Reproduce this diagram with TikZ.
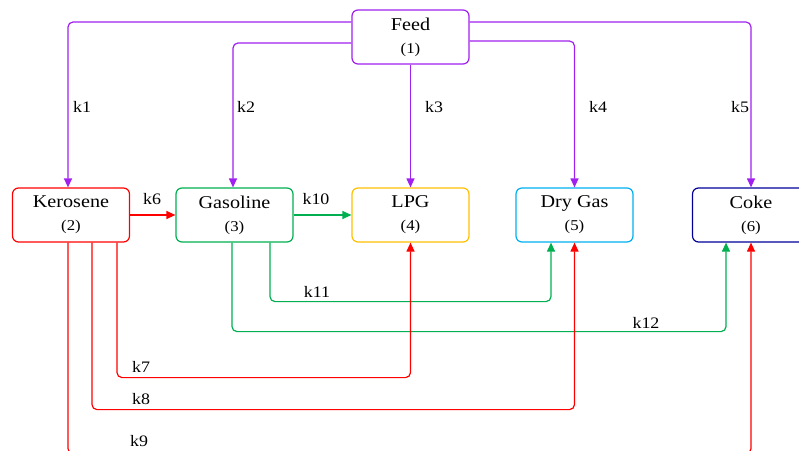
\documentclass[tikz,border=0pt]{standalone}
\usepackage{fontspec}
\setmainfont{Liberation Serif}[FakeStretch=1.12]
\usetikzlibrary{arrows.meta}
\definecolor{cpurple}{HTML}{A020F0}
\definecolor{cred}{HTML}{FF0000}
\definecolor{cgreen}{HTML}{00B050}
\definecolor{corange}{HTML}{FFC000}
\definecolor{ccyan}{HTML}{00B0F0}
\definecolor{cnavy}{HTML}{000099}
\tikzset{
  box/.style={draw, line width=1.2pt, rounded corners=6pt, minimum width=117pt, minimum height=54pt, align=center, inner sep=0pt, font=\fontsize{18}{22}\selectfont},
  conn/.style={line width=1.2pt, rounded corners=5pt, -{Triangle[length=9pt,width=8pt]}},
  lab/.style={font=\fontsize{16}{18}\selectfont, inner sep=0pt}
}
\newcommand{\nm}[1]{{\fontsize{15}{16}\selectfont #1}}
\begin{document}
\begin{tikzpicture}[x=1pt,y=1pt]
\useasboundingbox (0,0) rectangle (799,-450);
\node[box, draw=cpurple] (feed) at (410.5,-37) {Feed\\[1pt]\nm{(1)}};
\node[box, draw=cred] (kero) at (71,-215) {Kerosene\\[1pt]\nm{(2)}};
\node[box, draw=cgreen] (gaso) at (234.5,-215) {Gasoline\\[1pt]\nm{(3)}};
\node[box, draw=corange] (lpg) at (410.5,-215) {LPG\\[1pt]\nm{(4)}};
\node[box, draw=ccyan] (dry) at (574.5,-215) {Dry Gas\\[1pt]\nm{(5)}};
\node[box, draw=cnavy] (coke) at (751,-215) {Coke\\[1pt]\nm{(6)}};
% feed arrows
\draw[conn, cpurple] ([yshift=15pt]feed.west) -| ([xshift=-3pt]kero.north);
\draw[conn, cpurple] ([yshift=-6pt]feed.west) -| ([xshift=-1.5pt]gaso.north);
\draw[conn, cpurple] (feed.south) -- (lpg.north);
\draw[conn, cpurple] ([yshift=-4pt]feed.east) -| (dry.north);
\draw[conn, cpurple] ([yshift=15pt]feed.east) -| (coke.north);
% horizontal arrows
\draw[conn, cred] (kero.east) -- (gaso.west);
\draw[conn, cgreen] (gaso.east) -- (lpg.west);
% green lower arrows
\draw[conn, cgreen] ([xshift=35.5pt]gaso.south) -- ++(0,-59) -| ([xshift=-23.5pt]dry.south);
\draw[conn, cgreen] ([xshift=-2.5pt]gaso.south) -- ++(0,-89) -| ([xshift=-25pt]coke.south);
% red lower arrows
\draw[conn, cred] ([xshift=46pt]kero.south) -- ++(0,-135) -| (lpg.south);
\draw[conn, cred] ([xshift=21pt]kero.south) -- ++(0,-167) -| (dry.south);
\draw[conn, cred] ([xshift=-3pt]kero.south) -- ++(0,-211) -| (coke.south);
% labels
\node[lab] (l1) at (82,-107) {k1};
\node[lab] (l2) at (246,-107) {k2};
\node[lab] (l3) at (434,-107) {k3};
\node[lab] (l4) at (598,-107) {k4};
\node[lab] (l5) at (740,-107) {k5};
\node[lab] (l6) at (152,-199) {k6};
\node[lab] (l10) at (316,-199) {k10};
\node[lab] (l11) at (317,-292) {k11};
\node[lab] (l12) at (646,-323) {k12};
\node[lab] (l7) at (141,-367) {k7};
\node[lab] (l8) at (141,-399) {k8};
\node[lab] (l9) at (139,-441) {k9};
\end{tikzpicture}
\end{document}
